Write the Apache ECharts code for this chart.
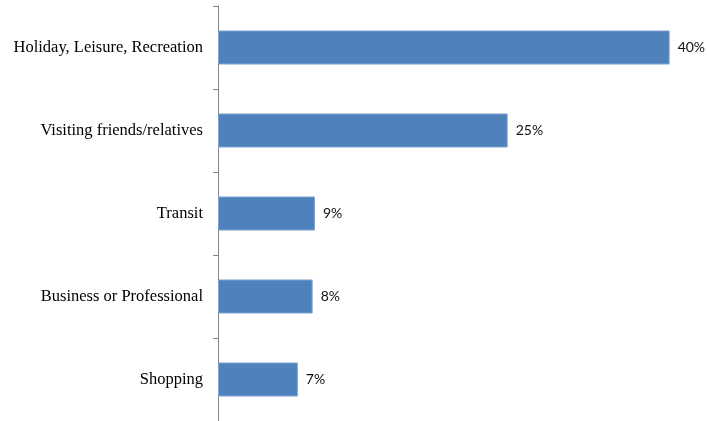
<!DOCTYPE html>
<html><head><meta charset="utf-8">
<script src="https://cdn.jsdelivr.net/npm/echarts@6/dist/echarts.min.js"></script>
<style>html,body{margin:0;padding:0;background:#fff}#c{width:707px;height:421px}</style>
</head><body><div id="c"></div>
<script>
var categories = ["Holiday, Leisure, Recreation", "Visiting friends/relatives", "Transit", "Business or Professional", "Shopping"];
var values = [39.6, 25.4, 8.5, 8.3, 7.0];

var chart = echarts.init(document.getElementById('c'));
chart.setOption({
  animation: false,
  grid: {left: 218, top: 6, width: 479, height: 418, containLabel: false},
  xAxis: {type: 'value', min: 0, max: 42, show: false},
  yAxis: {
    type: 'category', data: categories, inverse: true,
    axisLine: {show: true, lineStyle: {color: '#868686', width: 1}},
    axisTick: {show: true, length: 5, lineStyle: {color: '#868686'}},
    axisLabel: {margin: 15, color: '#000', fontFamily: 'Liberation Serif', fontSize: 16.5}
  },
  series: [{
    type: 'bar', data: values, barCategoryGap: '59%',
    itemStyle: {color: '#4F81BD', borderColor: '#7EA3D2', borderWidth: 1},
    label: {show: true, position: 'right', distance: 8, color: '#111', fontFamily: 'Lato', fontSize: 14,
      formatter: function(p){ return Math.round(p.value) + '%'; }}
  }]
});
</script></body></html>
